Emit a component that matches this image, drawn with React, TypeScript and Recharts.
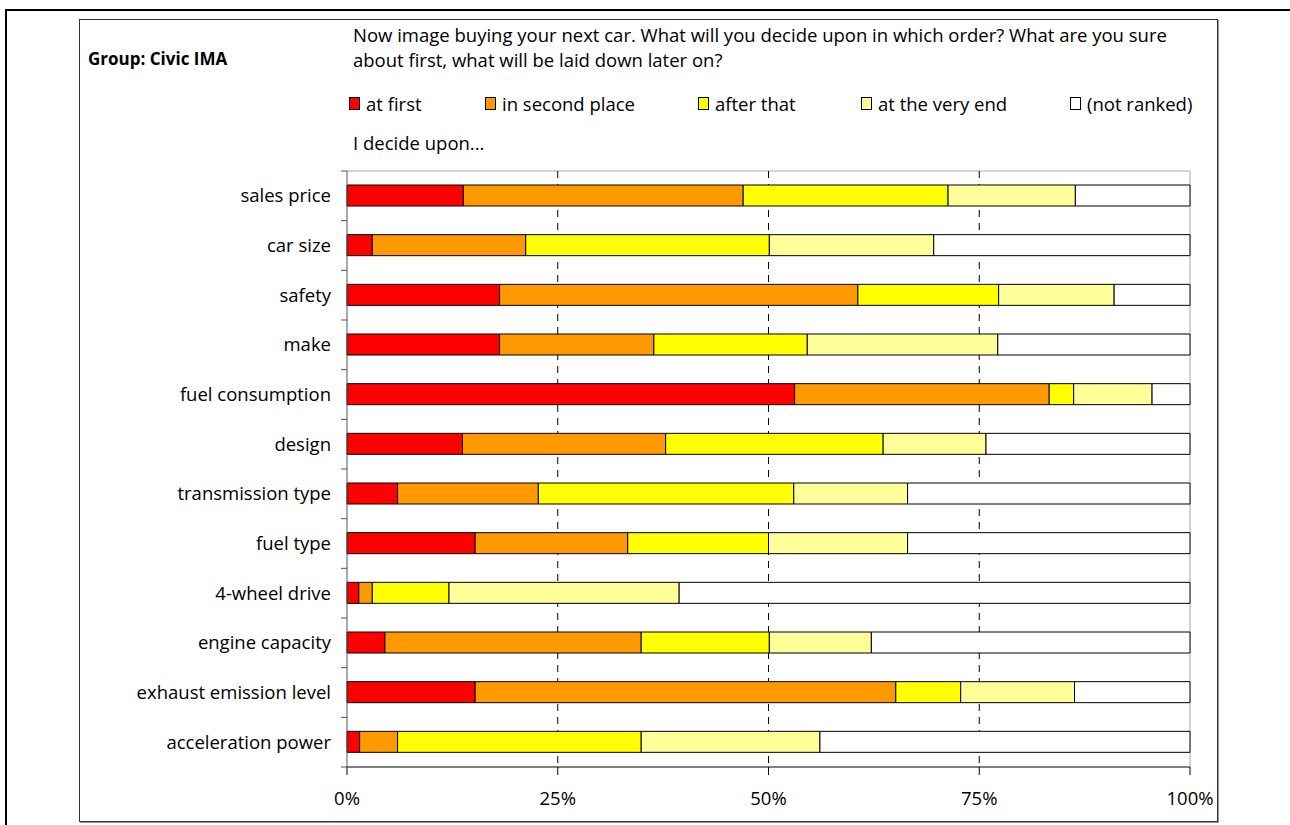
import React from "react";
import { BarChart, Bar, XAxis, YAxis, CartesianGrid } from "recharts";

const categories = [
  "sales price",
  "car size",
  "safety",
  "make",
  "fuel consumption",
  "design",
  "transmission type",
  "fuel type",
  "4-wheel drive",
  "engine capacity",
  "exhaust emission level",
  "acceleration power",
];

const atFirst = [13.8, 3.0, 18.1, 18.1, 53.1, 13.7, 6.0, 15.2, 1.4, 4.5, 15.2, 1.5];
const inSecondPlace = [33.2, 18.2, 42.5, 18.3, 30.2, 24.1, 16.7, 18.1, 1.6, 30.4, 49.9, 4.5];
const afterThat = [24.3, 28.9, 16.7, 18.2, 2.9, 25.8, 30.3, 16.7, 9.1, 15.2, 7.7, 28.9];
const atTheVeryEnd = [15.1, 19.5, 13.7, 22.6, 9.3, 12.2, 13.5, 16.5, 27.3, 12.1, 13.5, 21.2];
const notRanked = [13.6, 30.4, 9.0, 22.8, 4.5, 24.2, 33.5, 33.5, 60.6, 37.8, 13.7, 43.9];

const xTicks = [0, 25, 50, 75, 100];
const gridValues = [25, 50, 75];

const seriesDefs = [
  { key: "a", name: "at first", color: "#FF0000", values: atFirst },
  { key: "b", name: "in second place", color: "#FF9900", values: inSecondPlace },
  { key: "c", name: "after that", color: "#FFFF00", values: afterThat },
  { key: "d", name: "at the very end", color: "#FFFF99", values: atTheVeryEnd },
  { key: "e", name: "(not ranked)", color: "#FFFFFF", values: notRanked },
];

const data = categories.map((name, i) => {
  const row: Record<string, any> = { name };
  seriesDefs.forEach((s) => {
    row[s.key] = s.values[i];
  });
  return row;
});

const FONT = "'Open Sans', 'Noto Sans', sans-serif";
const FS = 18.5;

const legendPos = [349, 485, 698, 861, 1070];

const TICK_SIZE = 6;
const TICK_MARGIN = 10;

const CatTick = (props: any) => {
  const { x, y, payload, index, visibleTicksCount } = props;
  const half = payload && typeof payload.offset === "number" ? payload.offset : 0;
  const axisX = x + TICK_SIZE + TICK_MARGIN;
  const isLast = index === visibleTicksCount - 1;
  return (
    <g>
      <text
        x={x}
        y={y}
        dy="0.355em"
        textAnchor="end"
        fill="#000"
        fontSize={FS}
        fontFamily={FONT}
      >
        {payload.value}
      </text>
      <line x1={axisX - TICK_SIZE} x2={axisX} y1={y - half} y2={y - half} stroke="#555" />
      {isLast && (
        <line x1={axisX - TICK_SIZE} x2={axisX} y1={y + half} y2={y + half} stroke="#555" />
      )}
    </g>
  );
};

export default function App() {
  return (
    <div
      style={{
        position: "absolute",
        left: 0,
        top: 0,
        width: 1290,
        height: 825,
        overflow: "hidden",
        background: "#fff",
        fontFamily: FONT,
        color: "#000",
      }}
    >
      <div style={{ position: "absolute", left: 5, top: 9, width: 1285, height: 2, background: "#000" }} />
      <div style={{ position: "absolute", left: 5, top: 9, width: 2, height: 816, background: "#000" }} />
      <div
        style={{
          position: "absolute",
          left: 79,
          top: 19,
          width: 1137,
          height: 801,
          border: "1px solid #333",
          boxShadow: "1px 1px 0 #999",
        }}
      />

      <div
        style={{
          position: "absolute",
          left: 88,
          top: 47,
          fontSize: 17,
          fontWeight: 700,
          lineHeight: "24px",
          whiteSpace: "nowrap",
        }}
      >
        Group: Civic IMA
      </div>

      <div
        style={{
          position: "absolute",
          left: 353,
          top: 22,
          fontSize: FS,
          lineHeight: "25px",
          whiteSpace: "nowrap",
        }}
      >
        Now image buying your next car. What will you decide upon in which order? What are you sure
        <br />
        about first, what will be laid down later on?
      </div>

      {seriesDefs.map((s, i) => (
        <div
          key={s.key}
          style={{
            position: "absolute",
            left: legendPos[i],
            top: 91,
            height: 24,
            display: "flex",
            alignItems: "center",
            fontSize: FS,
            whiteSpace: "nowrap",
          }}
        >
          <span
            style={{
              display: "inline-block",
              width: 9,
              height: 11,
              background: s.color,
              border: "1px solid #000",
              marginRight: 6,
            }}
          />
          {s.name}
        </div>
      ))}

      <div
        style={{
          position: "absolute",
          left: 353,
          top: 131,
          fontSize: FS,
          lineHeight: "24px",
          whiteSpace: "nowrap",
        }}
      >
        I decide upon...
      </div>

      <div style={{ position: "absolute", left: 0, top: 0 }}>
        <BarChart
          width={1290}
          height={825}
          data={data}
          layout="vertical"
          margin={{ top: 171, left: 147, right: 100, bottom: 28 }}
          barSize={21}
        >
          <CartesianGrid
            stroke="#aaa"
            horizontalCoordinatesGenerator={({ offset }: any) => [offset.top]}
            verticalCoordinatesGenerator={({ offset }: any) => [offset.left + offset.width]}
          />
          <CartesianGrid
            horizontal={false}
            vertical={true}
            verticalValues={gridValues}
            stroke="#000"
            strokeDasharray="7 6"
          />
          <XAxis
            type="number"
            domain={[0, 100]}
            ticks={xTicks}
            tickFormatter={(v: number) => `${v}%`}
            height={30}
            tickSize={8}
            tickMargin={17}
            stroke="#000"
            tick={{ fill: "#000", fontSize: FS, fontFamily: FONT }}
            interval={0}
          />
          <YAxis
            type="category"
            dataKey="name"
            width={200}
            axisLine={{ stroke: "#555" }}
            tickLine={false}
            tickSize={TICK_SIZE}
            tickMargin={TICK_MARGIN}
            interval={0}
            tick={<CatTick />}
          />
          {seriesDefs.map((s) => (
            <Bar
              key={s.key}
              dataKey={s.key}
              name={s.name}
              stackId="stack"
              fill={s.color}
              stroke="#000"
              strokeWidth={1}
              isAnimationActive={false}
            />
          ))}
        </BarChart>
      </div>
    </div>
  );
}
